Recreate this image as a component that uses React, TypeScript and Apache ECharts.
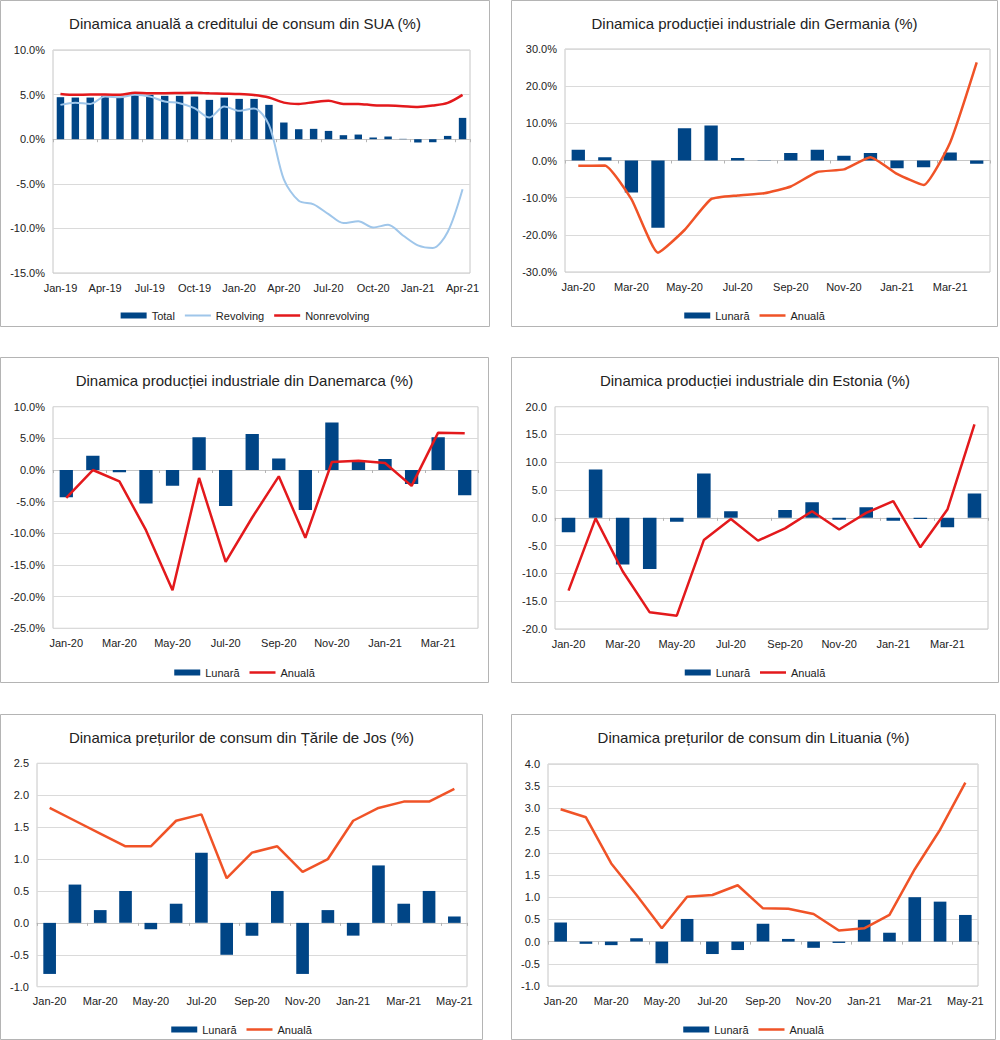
import React, { useEffect, useRef } from 'react';
import * as echarts from 'echarts';

const BLUE = '#004586';
const ORANGE = '#f05327';
const RED = '#e3191c';
const LIGHTBLUE = '#9fc6ea';
const FONT = '"Liberation Sans", Arial, sans-serif';
const TEXT = '#222222';

// ---------- Data ----------
const usCategories = [
  'Jan-19', 'Feb-19', 'Mar-19', 'Apr-19', 'May-19', 'Jun-19', 'Jul-19', 'Aug-19', 'Sep-19', 'Oct-19',
  'Nov-19', 'Dec-19', 'Jan-20', 'Feb-20', 'Mar-20', 'Apr-20', 'May-20', 'Jun-20', 'Jul-20', 'Aug-20',
  'Sep-20', 'Oct-20', 'Nov-20', 'Dec-20', 'Jan-21', 'Feb-21', 'Mar-21', 'Apr-21',
];
const usTotal = [4.71, 4.67, 4.67, 4.86, 4.67, 4.97, 4.97, 4.86, 4.86, 4.78, 4.41, 4.67, 4.52, 4.52, 3.85, 1.87, 1.12, 1.16, 0.93, 0.45, 0.52, 0.19, 0.3, 0.04, -0.37, -0.34, 0.37, 2.39];
const usRevolving = [3.85, 4.1, 3.96, 4.78, 4.7, 4.97, 4.78, 4.22, 4.04, 3.48, 2.43, 3.66, 3.18, 3.44, 1.6, -4.5, -6.9, -7.3, -8.4, -9.4, -9.2, -9.9, -9.6, -10.8, -11.9, -12.2, -10.4, -5.6];
const usNonrevolving = [5.08, 4.97, 5.0, 5.0, 4.97, 5.2, 5.16, 5.16, 5.18, 5.2, 5.14, 5.1, 5.06, 4.95, 4.67, 4.1, 3.96, 4.15, 4.3, 3.96, 3.96, 3.81, 3.77, 3.7, 3.62, 3.77, 4.07, 4.97];

const cat16 = [
  'Jan-20', 'Feb-20', 'Mar-20', 'Apr-20', 'May-20', 'Jun-20', 'Jul-20', 'Aug-20',
  'Sep-20', 'Oct-20', 'Nov-20', 'Dec-20', 'Jan-21', 'Feb-21', 'Mar-21', 'Apr-21',
];
const cat17 = [...cat16, 'May-21'];

const deLunara = [2.9, 0.9, -8.6, -18.1, 8.7, 9.4, 0.7, 0.1, 2.0, 2.9, 1.26, 2.0, -2.07, -1.8, 2.16, -0.9];
const deAnuala = [-1.44, -1.35, -10.4, -24.8, -18.7, -10.4, -9.4, -8.8, -7.0, -3.1, -2.4, 0.9, -3.6, -6.6, 4.86, 26.4];

const dkLunara = [-4.3, 2.26, -0.37, -5.3, -2.5, 5.16, -5.7, 5.7, 1.8, -6.3, 7.5, 1.3, 1.74, -2.2, 5.16, -4.0];
const dkAnuala = [-4.4, 0.0, -1.8, -9.5, -19.0, -1.26, -14.5, -7.5, -1.0, -10.7, 1.26, 1.47, 1.1, -2.5, 5.9, 5.8];

const eeLunara = [-2.6, 8.7, -8.4, -9.2, -0.7, 8.0, 1.2, 0.0, 1.4, 2.8, -0.36, 1.9, -0.5, -0.2, -1.7, 4.4];
const eeAnuala = [-13.1, -0.1, -9.6, -17.0, -17.6, -4.0, -0.2, -4.1, -1.9, 1.2, -2.1, 0.9, 3.0, -5.3, 1.5, 16.8];

const nlLunara = [-0.8, 0.6, 0.2, 0.5, -0.1, 0.3, 1.1, -0.5, -0.2, 0.5, -0.8, 0.2, -0.2, 0.9, 0.3, 0.5, 0.1];
const nlAnuala = [1.8, 1.6, 1.4, 1.2, 1.2, 1.6, 1.7, 0.7, 1.1, 1.2, 0.8, 1.0, 1.6, 1.8, 1.9, 1.9, 2.1];

const ltLunara = [0.43, -0.05, -0.08, 0.075, -0.49, 0.51, -0.28, -0.19, 0.4, 0.06, -0.14, -0.03, 0.49, 0.2, 1.0, 0.9, 0.6];
const ltAnuala = [2.98, 2.8, 1.76, 1.05, 0.3, 1.01, 1.05, 1.27, 0.75, 0.74, 0.62, 0.25, 0.3, 0.6, 1.63, 2.52, 3.58];

// ---------- Panel configuration ----------
type SeriesCfg = {
  name: string;
  type: 'bar' | 'line';
  data: number[];
  color: string;
  width?: number;
  smooth?: number | boolean;
};

type PanelCfg = {
  box: [number, number, number, number];
  plot: [number, number, number, number];
  title: string;
  categories: string[];
  labelInterval: number;
  yMin: number;
  yMax: number;
  yInterval: number;
  pct: boolean;
  series: SeriesCfg[];
};

const panels: PanelCfg[] = [
  {
    box: [0, 0, 490, 327],
    plot: [53, 50, 470, 273],
    title: 'Dinamica anuală a creditului de consum din SUA (%)',
    categories: usCategories,
    labelInterval: 2,
    yMin: -15, yMax: 10, yInterval: 5, pct: true,
    series: [
      { name: 'Total', type: 'bar', data: usTotal, color: BLUE },
      { name: 'Revolving', type: 'line', data: usRevolving, color: LIGHTBLUE, width: 2, smooth: 0.3 },
      { name: 'Nonrevolving', type: 'line', data: usNonrevolving, color: RED, width: 2.5, smooth: 0.3 },
    ],
  },
  {
    box: [511, 0, 487, 327],
    plot: [565, 49, 990, 272],
    title: 'Dinamica producției industriale din Germania (%)',
    categories: cat16,
    labelInterval: 1,
    yMin: -30, yMax: 30, yInterval: 10, pct: true,
    series: [
      { name: 'Lunară', type: 'bar', data: deLunara, color: BLUE },
      { name: 'Anuală', type: 'line', data: deAnuala, color: ORANGE, width: 2.5, smooth: 0.15 },
    ],
  },
  {
    box: [0, 357, 489, 326],
    plot: [53, 406.7, 478, 628.3],
    title: 'Dinamica producției industriale din Danemarca (%)',
    categories: cat16,
    labelInterval: 1,
    yMin: -25, yMax: 10, yInterval: 5, pct: true,
    series: [
      { name: 'Lunară', type: 'bar', data: dkLunara, color: BLUE },
      { name: 'Anuală', type: 'line', data: dkAnuala, color: RED, width: 2.5 },
    ],
  },
  {
    box: [511, 357, 488, 326],
    plot: [555, 406.7, 988, 629],
    title: 'Dinamica producției industriale din Estonia (%)',
    categories: cat16,
    labelInterval: 1,
    yMin: -20, yMax: 20, yInterval: 5, pct: false,
    series: [
      { name: 'Lunară', type: 'bar', data: eeLunara, color: BLUE },
      { name: 'Anuală', type: 'line', data: eeAnuala, color: RED, width: 2.5 },
    ],
  },
  {
    box: [0, 714, 483, 326],
    plot: [37, 763.3, 467, 986.7],
    title: 'Dinamica prețurilor de consum din Țările de Jos (%)',
    categories: cat17,
    labelInterval: 1,
    yMin: -1, yMax: 2.5, yInterval: 0.5, pct: false,
    series: [
      { name: 'Lunară', type: 'bar', data: nlLunara, color: BLUE },
      { name: 'Anuală', type: 'line', data: nlAnuala, color: ORANGE, width: 2.5 },
    ],
  },
  {
    box: [511, 714, 485, 326],
    plot: [548, 764, 978, 986],
    title: 'Dinamica prețurilor de consum din Lituania (%)',
    categories: cat17,
    labelInterval: 1,
    yMin: -1, yMax: 4, yInterval: 0.5, pct: false,
    series: [
      { name: 'Lunară', type: 'bar', data: ltLunara, color: BLUE },
      { name: 'Anuală', type: 'line', data: ltAnuala, color: ORANGE, width: 2.5 },
    ],
  },
];

// Legend icon for line series: a horizontal band inside a 26x6 box
// (tiny corner squares fix the bounding box so the band keeps its thickness)
function lineIcon(w: number) {
  const t = 3 - w / 2;
  return `path://M0,0h0.05v0.05h-0.05z M0,${t}h26v${w}h-26z M25.95,5.95h0.05v0.05h-0.05z`;
}

function buildOption(p: PanelCfg) {
  const [bx, by, bw, bh] = p.box;
  const [pl, pt, pr, pb] = p.plot;
  return {
    animation: false,
    backgroundColor: '#ffffff',
    textStyle: { fontFamily: FONT },
    graphic: [
      {
        type: 'rect',
        z: -10,
        silent: true,
        shape: { x: 0.5, y: 0.5, width: bw - 1, height: bh - 1 },
        style: { fill: '#ffffff', stroke: '#b4b4b4', lineWidth: 1 },
      },
    ],
    title: {
      text: p.title,
      left: 'center',
      top: 16,
      padding: 0,
      textStyle: { fontFamily: FONT, fontSize: 15, fontWeight: 'normal', color: TEXT },
    },
    legend: {
      left: 'center',
      top: 310,
      padding: 0,
      itemWidth: 26,
      itemHeight: 6,
      itemGap: 10,
      textStyle: { fontFamily: FONT, fontSize: 11, color: TEXT },
      data: p.series.map((s) =>
        s.type === 'line'
          ? { name: s.name, icon: lineIcon(s.width ?? 2.5) }
          : { name: s.name, icon: 'rect' }
      ),
    },
    grid: {
      left: pl - bx,
      top: pt - by,
      width: pr - pl,
      height: pb - pt,
      show: true,
      borderColor: '#c6c6c6',
      borderWidth: 1,
      backgroundColor: 'transparent',
    },
    xAxis: [
      {
        type: 'category',
        data: p.categories,
        boundaryGap: true,
        axisLine: { show: false, onZero: false },
        axisTick: { show: false },
        splitLine: { show: false },
        axisLabel: {
          interval: p.labelInterval,
          margin: 9,
          fontFamily: FONT,
          fontSize: 11,
          color: TEXT,
        },
      },
      {
        type: 'category',
        data: p.categories,
        position: 'bottom',
        boundaryGap: true,
        axisLine: { show: true, onZero: true, lineStyle: { color: '#c6c6c6', width: 1 } },
        axisTick: { show: true, interval: p.labelInterval, length: 3, lineStyle: { color: '#b4b4b4' } },
        axisLabel: { show: false },
        splitLine: { show: false },
      },
    ],
    yAxis: {
      type: 'value',
      min: p.yMin,
      max: p.yMax,
      interval: p.yInterval,
      axisLine: { show: false },
      axisTick: { show: false },
      axisLabel: {
        margin: 8,
        fontFamily: FONT,
        fontSize: 11,
        color: TEXT,
        formatter: (v: number) => v.toFixed(1) + (p.pct ? '%' : ''),
      },
      splitLine: { show: true, lineStyle: { color: '#dadada', width: 1 } },
    },
    series: p.series.map((s) =>
      s.type === 'bar'
        ? {
            name: s.name,
            type: 'bar',
            xAxisIndex: 0,
            yAxisIndex: 0,
            data: s.data,
            barWidth: '50%',
            itemStyle: { color: s.color },
          }
        : {
            name: s.name,
            type: 'line',
            xAxisIndex: 0,
            yAxisIndex: 0,
            data: s.data,
            symbol: 'none',
            smooth: s.smooth ?? false,
            itemStyle: { color: s.color },
            lineStyle: { color: s.color, width: s.width ?? 2.5 },
            z: 3,
          }
    ),
  };
}

function Panel({ cfg }: { cfg: PanelCfg }) {
  const ref = useRef<HTMLDivElement | null>(null);
  useEffect(() => {
    if (!ref.current) return;
    const chart = echarts.init(ref.current, undefined, { renderer: 'svg' });
    chart.setOption(buildOption(cfg) as any);
    return () => chart.dispose();
  }, [cfg]);
  const [x, y, w, h] = cfg.box;
  return (
    <div
      ref={ref}
      style={{ position: 'absolute', left: x, top: y, width: w, height: h }}
    />
  );
}

export default function App() {
  return (
    <div
      style={{
        position: 'absolute',
        left: 0,
        top: 0,
        width: 1000,
        height: 1040,
        background: '#ffffff',
        overflow: 'hidden',
      }}
    >
      {panels.map((p, i) => (
        <Panel key={i} cfg={p} />
      ))}
    </div>
  );
}
